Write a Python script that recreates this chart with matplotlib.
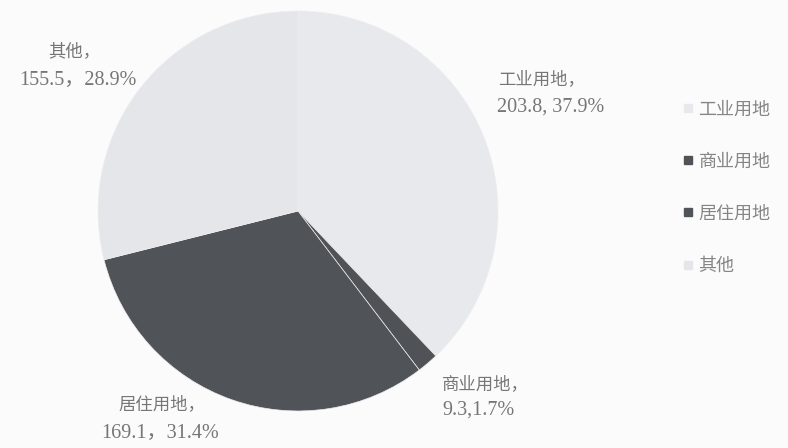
import matplotlib
matplotlib.use("Agg")
import matplotlib.pyplot as plt
from matplotlib.lines import Line2D

categories = ["工业用地", "商业用地", "居住用地", "其他"]
values = [203.8, 9.3, 169.1, 155.5]
shares = [37.9, 1.7, 31.4, 28.9]
seps = [", ", ",", "，", "，"]
colors = ["#e8e9ec", "#4f5257", "#505358", "#e5e6e9"]

fonts = ["Liberation Serif", "Noto Sans CJK SC", "DejaVu Sans"]
text_color = "#767676"

W, H = 788, 448
fig = plt.figure(figsize=(W / 100, H / 100), dpi=100)
fig.patch.set_facecolor("#fbfbfb")

cx, cy, r = 298, 211, 200
ax = fig.add_axes([(cx - r) / W, (H - cy - r) / H, 2 * r / W, 2 * r / H])
ax.pie(values, colors=colors, startangle=90, counterclock=False,
       radius=1.0, wedgeprops=dict(linewidth=0.5, edgecolor="#eeeef0"))
ax.set_xlim(-1, 1)
ax.set_ylim(-1, 1)
ax.set_aspect("equal")
ax.axis("off")

# slice labels: name line and value/share line, positioned in pixels
name_pos = {
    "工业用地": (498, 80, "left"),
    "商业用地": (442, 385, "left"),
    "居住用地": (162, 405, "center"),
    "其他": (74, 52, "center"),
}
num_pos = {
    "工业用地": (497, 107, "left"),
    "商业用地": (442, 410, "left"),
    "居住用地": (160, 433, "center"),
    "其他": (78, 80, "center"),
}
for name, v, s, sep in zip(categories, values, shares, seps):
    px, py, ha = name_pos[name]
    fig.text(px / W, 1 - py / H, f"{name}，", ha=ha, va="center",
             fontsize=12.5, color=text_color, family=fonts)
    px, py, ha = num_pos[name]
    fig.text(px / W, 1 - py / H, f"{v:.1f}{sep}{s:.1f}%", ha=ha, va="center",
             fontsize=14.5, color=text_color, family=fonts)

handles = [Line2D([], [], marker="s", linestyle="none", markersize=6,
                  markerfacecolor=c, markeredgecolor=c) for c in colors]
leg = fig.legend(handles, categories, loc="upper left",
                 bbox_to_anchor=(666 / W, 1 - 85 / H), frameon=False,
                 handlelength=0.6, handletextpad=0.3, labelspacing=1.95,
                 prop=dict(family=fonts, size=13))
for t in leg.get_texts():
    t.set_color("#858585")

fig.savefig("out.png", dpi=100, facecolor=fig.get_facecolor())
